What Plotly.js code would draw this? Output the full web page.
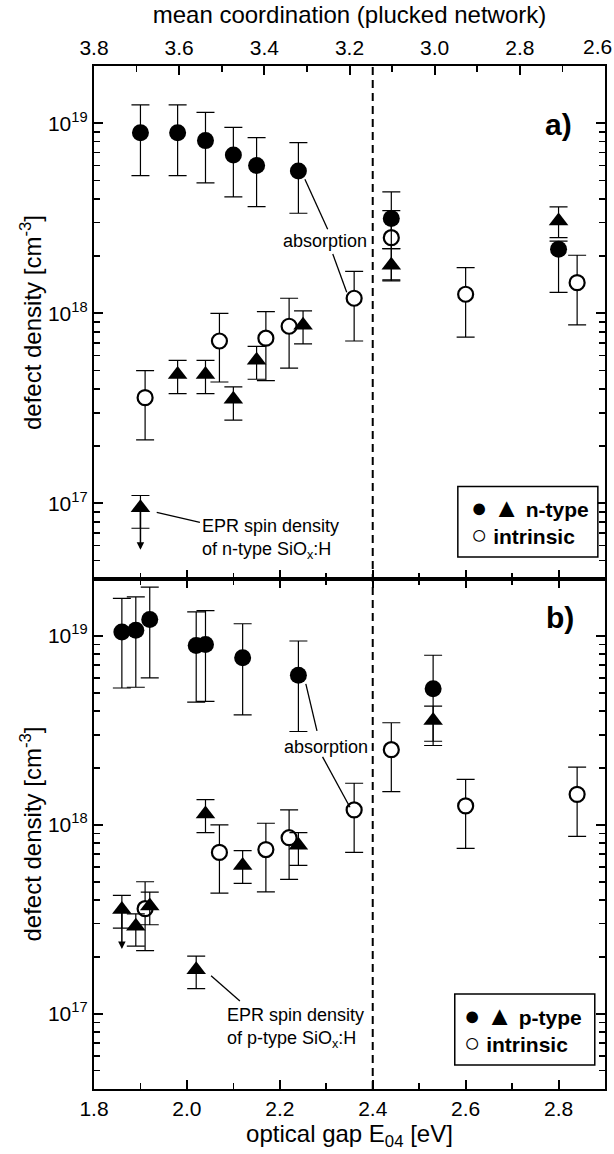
<!DOCTYPE html>
<html>
<head>
<meta charset="utf-8">
<script src="https://cdn.plot.ly/plotly-3.0.1.min.js"></script>
<style>
  html, body { margin: 0; padding: 0; background: #fff; }
  #chart { width: 614px; height: 1154px; }
</style>
</head>
<body>
<div id="chart"></div>
<script>
// ---------- Data ----------
// Panel a) n-type
const nAbsX     = [1.90, 1.98, 2.04, 2.10, 2.15, 2.24, 2.44, 2.80];
const nAbsY     = [8.9e18, 8.9e18, 8.1e18, 6.8e18, 6.0e18, 5.6e18, 3.15e18, 2.17e18];
const nAbsUp    = [1.25e19, 1.25e19, 1.14e19, 9.5e18, 8.4e18, 7.9e18, 4.35e18, 2.4e18];
const nAbsLo    = [5.3e18, 5.3e18, 4.85e18, 4.1e18, 3.64e18, 3.36e18, 2.19e18, 1.29e18];

const nEprX     = [1.90, 1.98, 2.04, 2.10, 2.15, 2.25, 2.44, 2.80];
const nEprY     = [9.5e16, 4.77e17, 4.77e17, 3.53e17, 5.66e17, 8.65e17, 1.79e18, 3.06e18];
const nEprUp    = [1.1e17, 5.66e17, 5.66e17, 4.1e17, 6.7e17, 1.03e18, 2.19e18, 3.63e18];
const nEprLo    = [7.4e16, 3.78e17, 3.78e17, 2.74e17, 4.5e17, 6.9e17, 1.48e18, 2.5e18];

// Panel b) p-type
const pAbsX     = [1.86, 1.89, 1.92, 2.02, 2.04, 2.12, 2.24, 2.53];
const pAbsY     = [1.05e19, 1.07e19, 1.22e19, 8.9e18, 9.0e18, 7.67e18, 6.2e18, 5.25e18];
const pAbsUp    = [1.58e19, 1.61e19, 1.81e19, 1.34e19, 1.36e19, 1.16e19, 9.4e18, 7.9e18];
const pAbsLo    = [5.3e18, 5.35e18, 6.0e18, 4.46e18, 4.5e18, 3.82e18, 3.12e18, 2.63e18];

const pEprX     = [1.86, 1.89, 1.92, 2.02, 2.04, 2.12, 2.24, 2.53];
const pEprY     = [3.57e17, 2.91e17, 3.72e17, 1.71e17, 1.14e18, 6.1e17, 7.8e17, 3.57e18];
const pEprUp    = [4.23e17, 3.38e17, 4.41e17, 2.02e17, 1.36e18, 7.3e17, 9.1e17, 4.25e18];
const pEprLo    = [2.84e17, 2.28e17, 2.96e17, 1.36e17, 9.1e17, 4.9e17, 6.1e17, 2.77e18];

// Intrinsic (both panels)
const iX        = [1.91, 2.07, 2.17, 2.22, 2.36, 2.44, 2.60, 2.84];
const iY        = [3.6e17, 7.15e17, 7.4e17, 8.55e17, 1.2e18, 2.5e18, 1.26e18, 1.45e18];
const iUp       = [5.0e17, 1.0e18, 1.02e18, 1.2e18, 1.66e18, 3.47e18, 1.74e18, 2.02e18];
const iLo       = [2.16e17, 4.35e17, 4.42e17, 5.15e17, 7.15e17, 1.5e18, 7.5e17, 8.7e17];

// Upper-limit arrows (EPR spin density): [x, from, to]
const nLimit    = [1.90, 9.5e16, 5.7e16];
const pLimit    = [1.86, 3.57e17, 2.2e17];

// Gap boundary
const gapLine   = [2.4];

// Tick labels
const e04Ticks      = [1.8, 2.0, 2.2, 2.4, 2.6, 2.8];
const e04Labels     = ['1.8', '2.0', '2.2', '2.4', '2.6', '2.8'];
const coordTicks    = [3.8, 3.6, 3.4, 3.2, 3.0, 2.8, 2.6];
const coordLabels   = ['3.8', '3.6', '3.4', '3.2', '3.0', '2.8', '2.6'];
const densTicks     = [1e17, 1e18, 1e19];
const densLabels    = ['10<sup>17</sup>', '10<sup>18</sup>', '10<sup>19</sup>'];

// ---------- Helpers ----------
const FONT = 'Liberation Sans, Arial, Helvetica, sans-serif';
function err(y, up, lo) {
  return {
    type: 'data', symmetric: false,
    array: y.map((v, i) => up[i] - v),
    arrayminus: y.map((v, i) => v - lo[i]),
    color: '#000', thickness: 1.2, width: 9
  };
}
function series(x, y, up, lo, xa, ya, kind) {
  const m = {
    filled: { symbol: 'circle', size: 17, color: '#000', line: { width: 0 } },
    tri:    { symbol: 'triangle-up', size: 17, color: '#000', line: { width: 0 } },
    open:   { symbol: 'circle', size: 15, color: '#fff', line: { width: 2.2, color: '#000' } }
  }[kind];
  return {
    type: 'scatter', mode: 'markers', x: x, y: y, xaxis: xa, yaxis: ya,
    marker: m, error_y: err(y, up, lo), showlegend: false, hoverinfo: 'skip'
  };
}

const traces = [
  // panel a
  series(iX, iY, iUp, iLo, 'x2', 'y', 'open'),
  series(nEprX, nEprY, nEprUp, nEprLo, 'x2', 'y', 'tri'),
  series(nAbsX, nAbsY, nAbsUp, nAbsLo, 'x2', 'y', 'filled'),
  // panel b
  series(iX, iY, iUp, iLo, 'x', 'y2', 'open'),
  series(pEprX, pEprY, pEprUp, pEprLo, 'x', 'y2', 'tri'),
  series(pAbsX, pAbsY, pAbsUp, pAbsLo, 'x', 'y2', 'filled'),
  // empty trace to host the top axis
  { type: 'scatter', mode: 'markers', x: [], y: [], xaxis: 'x3', yaxis: 'y', showlegend: false }
];

const yRange = [Math.log10(4e16), Math.log10(2e19)];
const split = 0.4985;

const tickFont = { family: FONT, size: 21, color: '#000' };
const titleFont = { family: FONT, size: 24, color: '#000' };

const commonX = {
  range: [1.8, 2.9], tickmode: 'array', tickvals: e04Ticks, ticktext: e04Labels,
  ticks: 'inside', ticklen: 9, tickwidth: 2, tickcolor: '#000',
  minor: { ticks: 'inside', dtick: 0.1, tick0: 1.8, ticklen: 6, tickwidth: 1.6, tickcolor: '#000', showgrid: false },
  showline: true, linewidth: 2.2, linecolor: '#000', showgrid: false, zeroline: false,
  tickfont: tickFont, ticklabeloverflow: 'allow'
};
const commonY = {
  type: 'log', range: yRange, tickmode: 'array', tickvals: densTicks, ticktext: densLabels,
  ticks: 'inside', ticklen: 9, tickwidth: 2, tickcolor: '#000',
  minor: { ticks: 'inside', dtick: 'D1', ticklen: 6, tickwidth: 1.6, tickcolor: '#000', showgrid: false },
  showline: true, linewidth: 2.2, linecolor: '#000', mirror: 'ticks', showgrid: false, zeroline: false,
  tickfont: tickFont,
  title: { text: 'defect density [cm<sup>-3</sup>]', font: titleFont, standoff: 0 }
};

const legSym = s => '<span style="font-size:27px">' + s + '</span>';
const lastCoord = coordLabels.length - 1;
// the last top label sits at the frame edge; it is drawn as an annotation so it stays inside the page
const coordTickText = coordLabels.map((t, i) => (i === lastCoord ? ' ' : t));

const layout = {
  width: 614, height: 1154,
  margin: { l: 94, r: 9, t: 66, b: 65 },
  paper_bgcolor: '#fff', plot_bgcolor: '#fff',
  font: { family: FONT, color: '#000' },
  showlegend: false,
  xaxis: Object.assign({}, commonX, {
    anchor: 'y2', domain: [0, 1], mirror: 'ticks',
    title: { text: 'optical gap E<sub>04</sub> [eV]', font: titleFont, standoff: 6 }
  }),
  xaxis2: Object.assign({}, commonX, {
    anchor: 'y', domain: [0, 1], matches: 'x', showticklabels: false, mirror: false
  }),
  xaxis3: {
    overlaying: 'x2', anchor: 'y', side: 'top', range: [3.8, 2.6],
    tickmode: 'array', tickvals: coordTicks, ticktext: coordTickText,
    ticks: 'inside', ticklen: 9, tickwidth: 2, tickcolor: '#000',
    minor: { ticks: 'inside', dtick: 0.1, tick0: 2.6, ticklen: 6, tickwidth: 1.6, tickcolor: '#000', showgrid: false },
    showline: true, linewidth: 2.2, linecolor: '#000', showgrid: false, zeroline: false,
    tickfont: tickFont, ticklabeloverflow: 'allow',
    title: { text: 'mean coordination (plucked network)', font: titleFont, standoff: 6 }
  },
  yaxis: Object.assign({}, commonY, { anchor: 'x2', domain: [split, 1] }),
  yaxis2: Object.assign({}, commonY, { anchor: 'x', domain: [0, split] }),
  shapes: [
    { type: 'line', xref: 'x', yref: 'paper', x0: gapLine[0], x1: gapLine[0], y0: 0, y1: 1,
      line: { color: '#000', width: 2, dash: '8px,5px' } },
    // callout lines panel a
    { type: 'line', xref: 'x2', yref: 'y', x0: 2.254, y0: 5.07e18, x1: 2.303, y1: 2.77e18, line: { color: '#000', width: 1.3 } },
    { type: 'line', xref: 'x2', yref: 'y', x0: 2.314, y0: 2.05e18, x1: 2.344, y1: 1.29e18, line: { color: '#000', width: 1.3 } },
    { type: 'line', xref: 'x2', yref: 'y', x0: 1.935, y0: 8.97e16, x1: 2.028, y1: 7.94e16, line: { color: '#000', width: 1.3 } },
    // callout lines panel b
    { type: 'line', xref: 'x', yref: 'y2', x0: 2.256, y0: 5.57e18, x1: 2.280, y1: 3.14e18, line: { color: '#000', width: 1.3 } },
    { type: 'line', xref: 'x', yref: 'y2', x0: 2.292, y0: 2.29e18, x1: 2.351, y1: 1.24e18, line: { color: '#000', width: 1.3 } },
    { type: 'line', xref: 'x', yref: 'y2', x0: 2.052, y0: 1.59e17, x1: 2.114, y1: 1.17e17, line: { color: '#000', width: 1.3 } },
    // legend boxes
    { type: 'rect', xref: 'paper', yref: 'paper', x0: 0.712, x1: 0.986, y0: 0.520, y1: 0.589, line: { color: '#000', width: 1.5 }, fillcolor: '#fff' },
    { type: 'rect', xref: 'paper', yref: 'paper', x0: 0.706, x1: 0.980, y0: 0.0235, y1: 0.0929, line: { color: '#000', width: 1.5 }, fillcolor: '#fff' }
  ],
  annotations: [
    // last top-axis label
    { xref: 'x3', yref: 'paper', x: coordTicks[lastCoord], y: 1.0186, xanchor: 'right', yanchor: 'middle',
      xshift: 9, text: coordLabels[lastCoord], showarrow: false, font: tickFont },
    { xref: 'x2', yref: 'y', x: 2.297, y: 18.379, text: 'absorption', showarrow: false,
      font: { family: FONT, size: 18, color: '#000' } },
    { xref: 'x', yref: 'y2', x: 2.299, y: 18.413, text: 'absorption', showarrow: false,
      font: { family: FONT, size: 18, color: '#000' } },
    { xref: 'x2', yref: 'y', x: 2.028, y: 16.813, xanchor: 'left', align: 'left',
      text: 'EPR spin density<br>of n-type SiO<sub>x</sub>:H', showarrow: false,
      font: { family: FONT, size: 18, color: '#000' } },
    { xref: 'x', yref: 'y2', x: 2.082, y: 16.926, xanchor: 'left', align: 'left',
      text: 'EPR spin density<br>of p-type SiO<sub>x</sub>:H', showarrow: false,
      font: { family: FONT, size: 18, color: '#000' } },
    // upper-limit arrows
    { xref: 'x2', yref: 'y', x: nLimit[0], y: Math.log10(nLimit[2]), axref: 'x2', ayref: 'y',
      ax: nLimit[0], ay: Math.log10(nLimit[1]), text: '', showarrow: true, arrowhead: 2, arrowsize: 1, arrowwidth: 1.5, arrowcolor: '#000' },
    { xref: 'x', yref: 'y2', x: pLimit[0], y: Math.log10(pLimit[2]), axref: 'x', ayref: 'y2',
      ax: pLimit[0], ay: Math.log10(pLimit[1]), text: '', showarrow: true, arrowhead: 2, arrowsize: 1, arrowwidth: 1.5, arrowcolor: '#000' },
    // panel labels
    { xref: 'paper', yref: 'paper', x: 0.939, y: 0.961, text: '<b>a)</b>', showarrow: false,
      font: { family: FONT, size: 30, color: '#000' } },
    { xref: 'paper', yref: 'paper', x: 0.943, y: 0.461, text: '<b>b)</b>', showarrow: false,
      font: { family: FONT, size: 30, color: '#000' } },
    // legends
    { xref: 'paper', yref: 'paper', x: 0.733, y: 0.5545, xanchor: 'left', yanchor: 'middle', align: 'left',
      text: legSym('●') + ' ' + legSym('▲') + ' <b>n-type</b><br>' + legSym('○') + ' <b>intrinsic</b>', showarrow: false,
      font: { family: FONT, size: 21, color: '#000' } },
    { xref: 'paper', yref: 'paper', x: 0.720, y: 0.0582, xanchor: 'left', yanchor: 'middle', align: 'left',
      text: legSym('●') + ' ' + legSym('▲') + ' <b>p-type</b><br>' + legSym('○') + ' <b>intrinsic</b>', showarrow: false,
      font: { family: FONT, size: 21, color: '#000' } }
  ]
};

Plotly.newPlot('chart', traces, layout, { staticPlot: true, displayModeBar: false });
</script>
</body>
</html>
